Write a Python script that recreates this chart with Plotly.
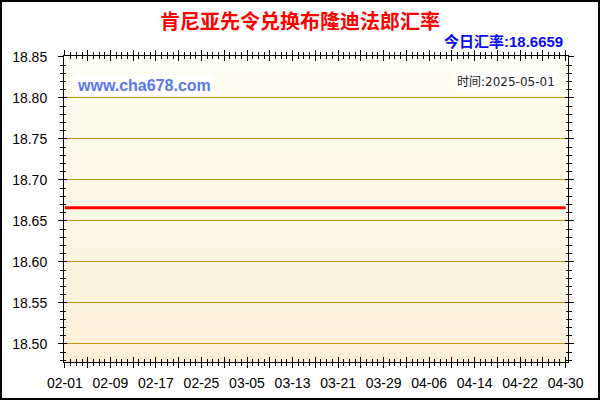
import plotly.graph_objects as go

# rate data (flat over the period)
dates = ["2025-02-01", "2025-04-30"]
rates = [18.6659, 18.6659]

title_text = "肯尼亚先令兑换布隆迪法郎汇率"
today_label = "今日汇率:18.6659"
site_label = "www.cha678.com"
time_label = "时间:2025-05-01"

y_ticks = [18.50, 18.55, 18.60, 18.65, 18.70, 18.75, 18.80, 18.85]

W, H = 600, 400
L, R, T, B = 64, 32, 56, 38
PW, PH = W - L - R, H - T - B


def px_x(x):
    return (x - L) / PW


def px_y(y):
    return (H - B - y) / PH


fig = go.Figure()

fig.add_trace(go.Scatter(
    x=dates, y=rates, mode="lines",
    line=dict(color="#FF0000", width=3),
    hoverinfo="skip", showlegend=False,
))
# invisible copy so the overlay axes (crossing ticks) get drawn
fig.add_trace(go.Scatter(
    x=dates, y=rates, mode="lines", xaxis="x2", yaxis="y2",
    line=dict(color="rgba(0,0,0,0)", width=0),
    hoverinfo="skip", showlegend=False,
))

# background gradient, cream at top to light peach at bottom
top_c = (254, 254, 242)
bot_c = (253, 240, 216)
n = 40
shapes = []
for i in range(n):
    f = i / (n - 1)
    c = tuple(round(top_c[k] + (bot_c[k] - top_c[k]) * f) for k in range(3))
    shapes.append(dict(
        type="rect", xref="x domain", yref="y domain",
        x0=0, x1=1, y0=1 - (i + 1) / n, y1=1 - i / n,
        fillcolor="rgb(%d,%d,%d)" % c, line=dict(width=0), layer="below",
    ))
# outer frame
shapes.append(dict(
    type="rect", xref="paper", yref="paper",
    x0=px_x(1), x1=px_x(599), y0=px_y(399), y1=px_y(1),
    line=dict(color="black", width=2), layer="above",
))

tick_font = dict(family="Liberation Sans, Arial", size=14, color="#000")

fig.update_layout(
    width=W, height=H, autosize=False,
    margin=dict(l=L, r=R, t=T, b=B, autoexpand=False),
    paper_bgcolor="white", plot_bgcolor="white",
    shapes=shapes,
    title=dict(
        text="<b>%s</b>" % title_text, x=0.5, xanchor="center",
        y=1 - 22 / H, yanchor="middle",
        font=dict(family="Noto Sans CJK SC", size=20, color="#FF0000"),
    ),
    xaxis=dict(
        type="date",
        range=["2025-01-31 20:00", "2025-04-30 10:00"],
        tick0="2025-02-01", dtick=4 * 86400000, ticklabelstep=2,
        tickformat="%m-%d", tickfont=tick_font,
        ticks="outside", ticklen=5, tickcolor="black",
        minor=dict(dtick=86400000, ticks="outside", ticklen=3, tickcolor="black"),
        showline=True, linecolor="black", linewidth=1, mirror="allticks",
        showgrid=False, zeroline=False, ticklabelstandoff=3,
    ),
    xaxis2=dict(
        overlaying="x", matches="x", anchor="y",
        tick0="2025-02-01", dtick=4 * 86400000,
        ticks="inside", ticklen=5, tickcolor="black",
        minor=dict(dtick=86400000, ticks="inside", ticklen=3, tickcolor="black"),
        mirror="allticks", showline=False, showticklabels=False,
        showgrid=False, zeroline=False,
    ),
    yaxis=dict(
        range=[18.478, 18.851],
        tickvals=y_ticks, tickformat=".2f", tickfont=tick_font,
        ticks="outside", ticklen=5, tickcolor="black",
        minor=dict(dtick=0.01, ticks="outside", ticklen=3, tickcolor="black"),
        showline=True, linecolor="black", linewidth=1, mirror="allticks",
        showgrid=True, gridcolor="#C4960F", gridwidth=1,
        zeroline=False, ticklabelstandoff=8,
    ),
    yaxis2=dict(
        overlaying="y", matches="y", anchor="x", side="left",
        tickvals=y_ticks,
        ticks="inside", ticklen=3, tickcolor="black",
        minor=dict(dtick=0.01, ticks="inside", ticklen=2, tickcolor="black"),
        mirror="allticks", showline=False, showticklabels=False,
        showgrid=False, zeroline=False,
    ),
    annotations=[
        dict(
            text="<b>%s</b>" % today_label, xref="paper", yref="paper",
            x=px_x(565), y=px_y(42), xanchor="right", yanchor="middle",
            showarrow=False,
            font=dict(family="Liberation Sans, Noto Sans CJK SC", size=15, color="#0A0AF0"),
        ),
        dict(
            text="<b>%s</b>" % site_label, xref="paper", yref="paper",
            x=px_x(74), y=px_y(85), xanchor="left", yanchor="middle",
            showarrow=False, bgcolor="white", borderpad=2,
            font=dict(family="Liberation Sans, Arial", size=16, color="#5A78EE"),
        ),
        dict(
            text=time_label, xref="paper", yref="paper",
            x=px_x(558), y=px_y(82), xanchor="right", yanchor="middle",
            showarrow=False, bgcolor="white", borderpad=2,
            font=dict(family="DejaVu Sans, Noto Sans CJK SC", size=12, color="#222"),
        ),
    ],
)

# drop the default page margin so the figure sits at the window corner
fig.write_html(
    "out.html",
    config={"displayModeBar": False},
    post_script="document.body.style.margin='0';",
)
